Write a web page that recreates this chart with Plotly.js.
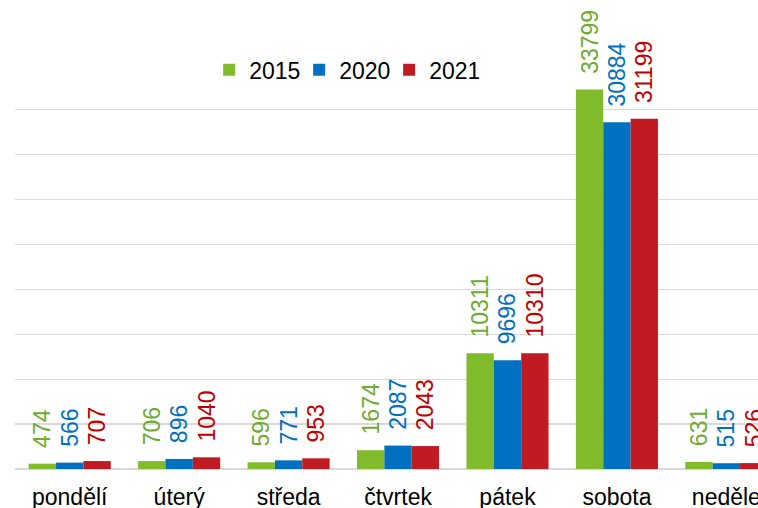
<!DOCTYPE html>
<html>
<head>
<meta charset="utf-8">
<script src="https://cdn.plot.ly/plotly-3.0.1.min.js"></script>
<style>html,body{margin:0;padding:0;background:#fff;}#chart{width:758px;height:508px;}</style>
</head>
<body>
<div id="chart"></div>
<script>
const categories = ["pondělí", "úterý", "středa", "čtvrtek", "pátek", "sobota", "neděle"];
const years = ["2015", "2020", "2021"];
const values2015 = [474, 706, 596, 1674, 10311, 33799, 631];
const values2020 = [566, 896, 771, 2087, 9696, 30884, 515];
const values2021 = [707, 1040, 953, 2043, 10310, 31199, 526];
const gridValues = [0, 4000, 8000, 12000, 16000, 20000, 24000, 28000, 32000];

const barColors = ["#80BB2C", "#0070C0", "#C01A22"];
const textColors = ["#70AA30", "#0070C0", "#C00000"];
const series = [values2015, values2020, values2021];

const traces = series.map((vals, i) => ({
  type: "bar",
  name: years[i],
  x: categories,
  y: vals,
  marker: {color: barColors[i], line: {width: 0}},
  text: vals.map(v => "\u00A0\u00A0" + v),
  textposition: "outside",
  textangle: -90,
  constraintext: "none",
  cliponaxis: false,
  textfont: {family: "Liberation Sans, Arial, sans-serif", size: 23, color: textColors[i]},
  hoverinfo: "skip"
}));

const layout = {
  width: 758,
  height: 508,
  margin: {l: 15, r: 0, t: 20, b: 38.5, pad: 0},
  paper_bgcolor: "#ffffff",
  plot_bgcolor: "#ffffff",
  barmode: "group",
  bargap: 0.25,
  bargroupgap: 0,
  showlegend: true,
  legend: {
    orientation: "h",
    x: 0.443, xanchor: "center",
    y: 0.889, yanchor: "middle",
    entrywidth: 45,
    entrywidthmode: "pixels",
    font: {family: "Liberation Sans, Arial, sans-serif", size: 23, color: "#000000"},
    bgcolor: "rgba(0,0,0,0)",
    itemclick: false
  },
  xaxis: {
    type: "category",
    range: [-0.5, 6.289],
    showgrid: false,
    showline: false,
    ticks: "",
    ticklabelstandoff: 12,
    tickfont: {family: "Liberation Sans, Arial, sans-serif", size: 23, color: "#000000"},
    fixedrange: true
  },
  yaxis: {
    range: [0, 40000],
    tickmode: "array",
    tickvals: gridValues,
    showticklabels: false,
    showgrid: true,
    gridcolor: "#D9D9D9",
    gridwidth: 1.3,
    zeroline: true,
    zerolinecolor: "#D9D9D9",
    zerolinewidth: 1.5,
    fixedrange: true
  },
  font: {family: "Liberation Sans, Arial, sans-serif"}
};

Plotly.newPlot("chart", traces, layout, {displayModeBar: false, staticPlot: true});
</script>
</body>
</html>
